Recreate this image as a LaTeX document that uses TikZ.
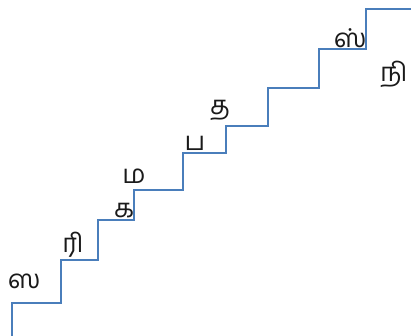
\documentclass[tikz,border=0pt]{standalone}
\usepackage{fontspec}
\newfontfamily\tamilfont[Script=Tamil]{Hind Madurai}
\definecolor{stairblue}{HTML}{4A7EBB}
\definecolor{swaraink}{HTML}{1A1A1A}
\tikzset{
  stair/.style={draw=stairblue, line width=2pt, line join=miter},
  swara/.style={font=\tamilfont\fontsize{26}{26}\selectfont, text=swaraink, inner sep=0pt},
}
\begin{document}
\begin{tikzpicture}[x=1pt, y=-1pt]
    \useasboundingbox (0,0) rectangle (411,336);
    % the staircase, bottom left to top right
    \draw[stair] (12,336) |- (61,303) |- (98,260) |- (134,220) |- (183,190)
      |- (226,153) |- (268,126) |- (319,88) |- (366,49) |- (411,9);
    % the swaras
    \node[swara] (sa) at (24,281) {ஸ};
    \node[swara] (ri) at (73,245) {ரி};
    \node[swara] (ga) at (124,211) {க};
    \node[swara] (ma) at (134,176) {ம};
    \node[swara] (pa) at (195,143) {ப};
    \node[swara] (dha) at (220,110) {த};
    \node[swara] (ni) at (394,74) {நி};
    \node[swara] (hsa) at (350,38) {ஸ்};
  \end{tikzpicture}
\end{document}
